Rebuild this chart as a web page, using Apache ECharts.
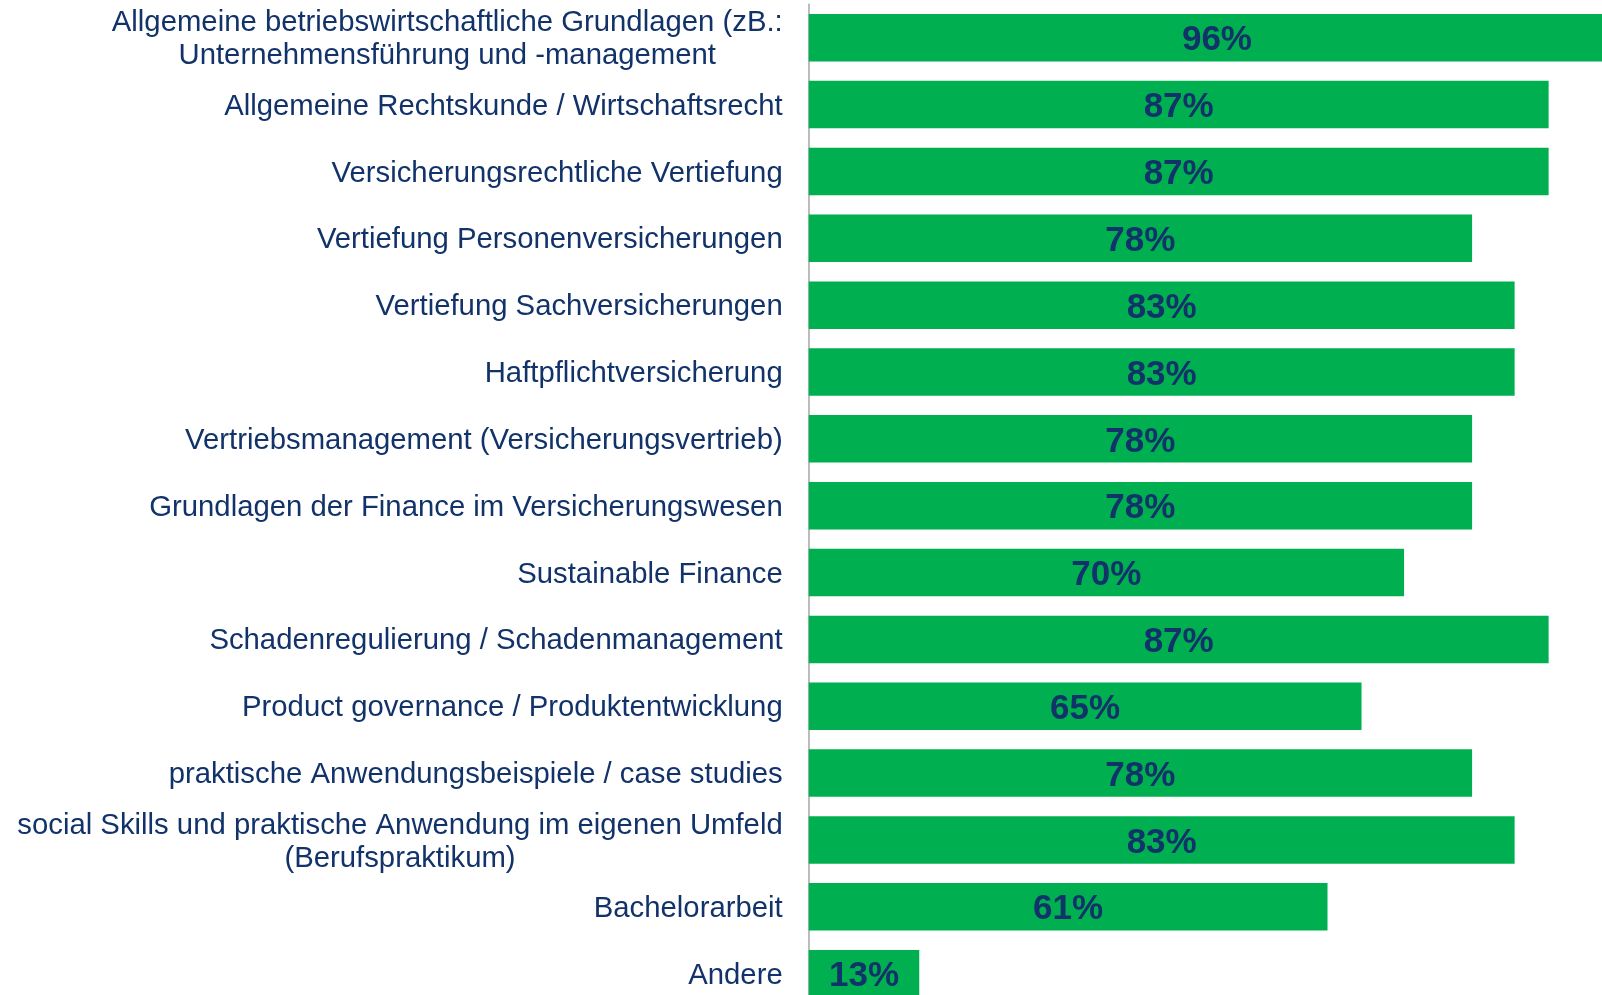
<!DOCTYPE html>
<html>
<head>
<meta charset="utf-8">
<script src="https://cdn.jsdelivr.net/npm/echarts@6/dist/echarts.min.js"></script>
<style>
  html, body { margin: 0; padding: 0; background: #fff; }
  #chart { width: 1602px; height: 995px; }
</style>
</head>
<body>
<div id="chart"></div>
<script>
// Kategorien (von oben nach unten)
var categories = [
  'Allgemeine betriebswirtschaftliche Grundlagen (zB.:\nUnternehmensführung und -management',
  'Allgemeine Rechtskunde / Wirtschaftsrecht',
  'Versicherungsrechtliche Vertiefung',
  'Vertiefung Personenversicherungen',
  'Vertiefung Sachversicherungen',
  'Haftpflichtversicherung',
  'Vertriebsmanagement (Versicherungsvertrieb)',
  'Grundlagen der Finance im Versicherungswesen',
  'Sustainable Finance',
  'Schadenregulierung / Schadenmanagement',
  'Product governance / Produktentwicklung',
  'praktische Anwendungsbeispiele / case studies',
  'social Skills und praktische Anwendung im eigenen Umfeld\n(Berufspraktikum)',
  'Bachelorarbeit',
  'Andere'
]
// Anteile in %
var values = [96, 87, 87, 78, 83, 83, 78, 78, 70, 87, 65, 78, 83, 61, 13]

var textColor = '#12326a'
var barColor = '#00b050'

var chart = echarts.init(document.getElementById('chart'))
var option = {
  animation: false,
  grid: {
    left: 808.7,
    top: 4.3,
    width: 850.5,
    height: 1002.8,
    // Raster darf über den Rand hinausgehen (96%-Balken wird abgeschnitten)
    outerBoundsMode: 'none'
  },
  xAxis: {
    type: 'value',
    min: 0,
    max: 100,
    show: false
  },
  yAxis: {
    type: 'category',
    inverse: true,
    data: categories,
    axisTick: { show: false },
    axisLine: { lineStyle: { color: '#a6a6a6', width: 1.5 } },
    axisLabel: {
      margin: 26,
      align: 'right',
      padding: [4, 0, 0, 0],
      formatter: function (v) {
        // jede Zeile für sich zentriert, Block rechtsbündig
        return v.split('\n').map(function (l) { return '{c|' + l + '}' }).join('\n')
      },
      rich: {
        c: {
          align: 'center',
          fontFamily: 'Liberation Sans',
          fontSize: 29.3,
          lineHeight: 33,
          color: textColor
        }
      }
    }
  },
  series: [{
    type: 'bar',
    data: values,
    barWidth: 47.5,
    itemStyle: { color: barColor },
    label: {
      show: true,
      position: 'inside',
      offset: [0, 3],
      formatter: '{c}%',
      fontFamily: 'Liberation Sans',
      fontWeight: 'bold',
      fontSize: 35,
      color: textColor
    }
  }]
}
chart.setOption(option)
</script>
</body>
</html>
